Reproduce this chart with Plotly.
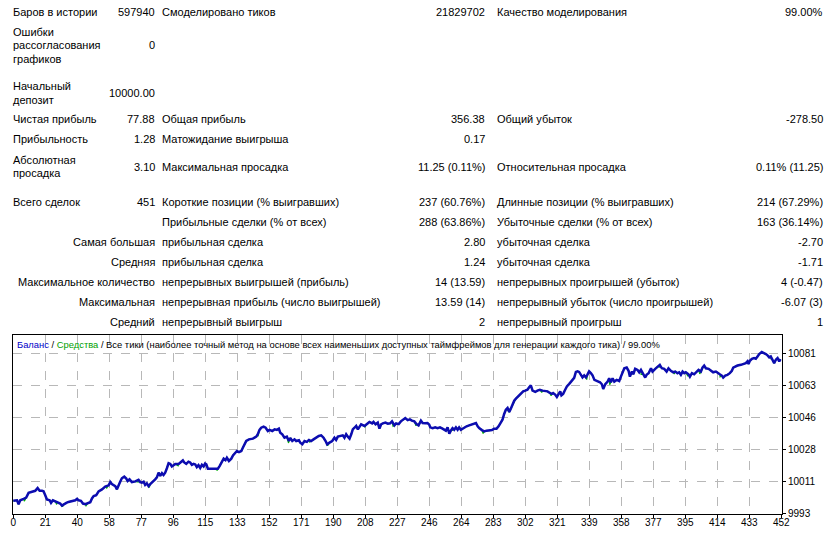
import plotly.graph_objects as go

# ---------------- data ----------------
trade_no = [
    0, 2.2, 3.1, 4.1, 6.1, 7.6, 9.0, 11.0, 12.9, 14.3, 15.5, 16.9, 17.8, 18.8, 19.8, 21.4, 22.2, 23.3, 24.7, 25.7,
    26.7, 27.6, 28.6, 29.6, 31.2, 32.5, 34.5, 36.5, 37.5, 38.4, 39.8, 41.0, 42.4, 43.7, 45.3, 46.3, 47.3, 48.8, 50.2, 52.2,
    54.1, 56.1, 57.1, 58.0, 59.0, 60.0, 61.0, 62.0, 62.9, 63.9, 65.3, 66.5, 67.3, 68.4, 69.8, 71.8, 73.7, 74.7, 75.7, 76.7,
    77.6, 78.6, 79.6, 80.6, 81.6, 82.5, 83.5, 84.5, 85.5, 86.5, 87.5, 88.4, 89.4, 90.4, 91.4, 92.4, 93.3, 94.3, 95.3, 97.3,
    98.6, 99.8, 100.6, 101.8, 103.1, 104.1, 105.1, 106.1, 107.1, 108.0, 109.0, 110.0, 111.0, 112.0, 112.9,
    113.6, 114.5, 116.5, 118.5, 120.4, 121.4, 123.0, 123.8, 124.9, 125.7, 126.9, 128.3, 129.3, 130.2, 131.6, 132.8, 134.2,
    135.1, 136.1, 137.1, 138.7, 141.0, 143.0, 143.9, 144.9, 145.9, 147.3, 148.5, 149.8, 150.8, 152.4, 153.8, 155.1, 156.3,
    157.1, 158.3, 159.6, 161.0, 162.2, 163.0, 164.2, 165.5, 166.5, 168.1, 168.9, 170.1, 171.4, 172.8, 174.0, 175.3, 176.7,
    178.3, 179.8, 181.2, 182.6, 183.8, 184.7, 186.1, 187.7, 189.0, 190.0, 191.0, 192.4, 193.9, 194.9, 195.9, 196.9, 197.9,
    198.9, 199.8, 200.8, 201.8, 202.8, 203.8, 204.7, 206.7, 207.7, 208.7, 209.6, 211.2, 212.0, 213.2, 214.5, 215.5, 216.5,
    217.5, 219.0, 220.4, 221.8, 222.9, 224.3, 225.3,
    226.8, 228.1, 229.5, 230.7, 232.1, 233.4, 234.6, 236.0, 237.3, 238.5, 239.9, 240.9, 242.4, 243.8, 244.8, 245.4, 246.8,
    248.3, 249.7, 251.1, 252.6, 253.6, 254.6, 255.6, 256.6, 257.5, 258.5, 259.5, 260.5, 261.5, 262.4, 263.4, 264.4, 265.4,
    266.8, 268.3, 269.9, 271.3, 272.3, 273.3, 274.2, 275.8, 277.2, 278.5, 280.1, 281.7, 283.0, 284.4, 285.6, 287.0, 287.9,
    288.9, 289.9, 290.9, 291.9, 292.8, 293.8, 294.8, 295.8, 297.4, 298.7, 300.1, 301.3, 302.6, 303.6, 304.6, 305.6, 307.2,
    308.5, 309.9, 311.5, 313.0, 314.4, 315.8, 317.0, 317.7, 318.9, 319.9, 320.9, 321.9, 322.6, 323.6, 324.8, 325.8, 327.2,
    328.7, 330.1, 331.1, 332.1, 333.0, 334.0, 335.0, 336.0, 337.0, 337.9, 338.9, 339.9, 340.9,
    342.0, 343.9, 345.3, 346.4, 347.2, 348.4, 349.8, 350.7, 351.7, 352.7, 353.7, 355.1, 356.6, 357.6, 358.6, 359.6, 361.0,
    362.1, 362.9, 364.1, 364.9, 366.0, 367.4, 368.4, 369.4, 370.7, 371.9, 372.7, 373.9, 375.3, 376.2, 377.8, 379.2, 380.5,
    381.7, 383.1, 384.5, 385.6, 387.0, 388.4, 389.6, 390.9, 391.9, 392.9, 393.9, 394.9, 395.8, 397.4, 398.2, 399.4, 400.7,
    402.1, 403.3, 404.7, 405.6, 406.6, 407.6, 409.2, 410.5, 411.9, 413.5, 414.5, 415.8, 417.0, 417.8, 419.0, 420.3, 421.7,
    422.9, 423.7, 424.9, 426.2, 428.2, 429.6, 431.1, 432.1, 432.7, 433.5, 434.7, 436.0, 437.0, 438.0, 439.0, 440.5, 441.9,
    442.9, 443.9, 444.9, 445.8, 446.8, 447.8, 448.8, 449.8, 450.8, 451.5,
]
balance = [
    10000.0, 10000.3, 9998.1, 10000.3, 10001.1, 10001.8, 10004.4, 10005.0, 10005.5, 10007.0, 10005.5, 10005.5, 10005.2,
    10003.1, 10000.7, 10000.3, 9998.9, 10000.3, 9999.8, 9999.2, 9998.9, 9998.5, 9997.4, 9998.1, 9998.9, 9999.4, 10000.0,
    10000.3, 10001.1, 10000.3, 10000.0, 9998.5, 9998.1, 9998.5, 9999.2, 10001.3, 10002.6, 10003.1, 10005.2, 10006.3,
    10007.8, 10008.5, 10010.3, 10009.2, 10008.7, 10008.1, 10006.3, 10008.9, 10010.5, 10012.4, 10013.3, 10012.2, 10010.9,
    10011.8, 10010.3, 10010.7, 10011.5, 10010.3, 10010.0, 10010.5, 10008.7, 10009.6, 10008.1, 10009.2, 10010.0, 10010.5,
    10011.8, 10012.9, 10015.5, 10013.7, 10015.2, 10014.2, 10015.5, 10017.9, 10020.7, 10020.3, 10018.9, 10019.6, 10020.2,
    10020.3, 10021.1, 10022.2, 10021.1, 10020.3, 10021.5, 10021.1, 10019.8, 10020.3, 10020.0, 10018.5, 10019.6, 10018.1,
    10019.8, 10018.9, 10020.5,
    10020.1, 10017.7, 10017.7, 10017.7, 10017.7, 10019.1, 10021.9, 10023.2, 10022.4, 10023.7, 10021.9, 10023.2, 10025.0,
    10026.1, 10027.4, 10026.8, 10027.4, 10029.2, 10031.1, 10032.9, 10033.8, 10034.2, 10035.3, 10036.6, 10039.0, 10040.2,
    10040.8, 10040.2, 10038.4, 10039.0, 10038.4, 10039.3, 10039.0, 10039.7, 10037.5, 10036.6, 10034.7, 10035.3, 10032.9,
    10034.6, 10032.9, 10033.8, 10032.9, 10033.3, 10032.0, 10031.1, 10032.9, 10032.4, 10033.5, 10032.9, 10033.8, 10034.7,
    10035.7, 10036.0, 10034.7, 10032.9, 10031.1, 10032.0, 10032.9, 10034.7, 10033.5, 10035.3, 10035.7, 10036.0, 10034.7,
    10036.6, 10035.3, 10034.2, 10036.6, 10039.3, 10040.2, 10041.2, 10039.3, 10040.8, 10042.1, 10041.2, 10042.1, 10043.0,
    10043.4, 10042.6, 10043.4, 10042.1, 10043.0, 10039.7, 10042.1, 10042.6, 10043.0, 10042.4, 10042.6, 10043.7, 10041.5,
    10042.6,
    10042.2, 10043.7, 10044.6, 10045.5, 10044.4, 10044.8, 10044.1, 10043.7, 10042.2, 10041.5, 10044.1, 10042.8, 10042.6,
    10042.8, 10041.9, 10040.4, 10040.0, 10040.4, 10040.0, 10040.4, 10039.7, 10039.1, 10038.6, 10040.4, 10036.9, 10038.6,
    10040.0, 10039.1, 10040.4, 10039.1, 10040.4, 10039.1, 10039.7, 10040.4, 10041.0, 10041.5, 10041.9, 10042.2, 10042.8,
    10041.0, 10040.0, 10038.9, 10038.2, 10038.6, 10038.6, 10038.9, 10039.7, 10039.7, 10041.0, 10042.8, 10044.6, 10047.8,
    10050.1, 10051.1, 10048.9, 10050.7, 10052.9, 10055.1, 10056.2, 10057.5, 10058.8, 10060.2, 10060.6, 10061.1, 10062.4,
    10063.5, 10060.6, 10059.9, 10060.6, 10061.1, 10060.6, 10060.6, 10060.2, 10059.3, 10058.8, 10059.3, 10058.4, 10057.1,
    10058.8, 10060.2, 10058.0, 10058.8, 10061.1, 10062.9, 10064.3, 10066.1, 10067.6, 10070.9, 10071.2, 10070.9, 10069.4,
    10067.9, 10069.0, 10067.9, 10069.4, 10071.2, 10070.3, 10069.0,
    10066.5, 10065.6, 10065.2, 10064.1, 10061.5, 10064.1, 10065.6, 10067.4, 10065.2, 10067.4, 10065.6, 10066.5, 10065.9,
    10068.3, 10070.7, 10072.9, 10073.3, 10071.5, 10068.3, 10071.1, 10069.6, 10072.6, 10072.0, 10070.7, 10072.0, 10069.6,
    10067.8, 10069.3, 10070.2, 10072.9, 10071.1, 10072.6, 10073.9, 10074.8, 10072.9, 10072.6, 10071.1, 10072.9, 10071.5,
    10070.7, 10071.1, 10070.2, 10070.7, 10069.3, 10071.1, 10070.2, 10070.7, 10069.6, 10068.3, 10070.2, 10069.6, 10070.7,
    10072.0, 10071.1, 10073.3, 10074.4, 10072.9, 10072.6, 10071.5, 10070.7, 10071.1, 10070.2, 10069.6, 10068.9, 10067.8,
    10068.9, 10069.3, 10070.2, 10071.5, 10073.3, 10073.9, 10074.4, 10074.8, 10075.2, 10075.7, 10076.7, 10075.2, 10077.0,
    10078.1, 10078.5, 10078.1, 10079.4, 10080.7, 10081.8, 10081.3, 10080.7, 10080.0, 10078.9, 10079.4, 10077.6, 10075.7,
    10077.6, 10078.5, 10076.7, 10077.88,
]
# equity (green) dips read where it shows below the balance line
equity_dip_trade = [6.5, 25.5, 29.0, 42.8, 55.0, 73.5, 80.0, 97.0, 120.0, 144.0, 162.0, 174.5, 185.0, 207.0, 223.5,
                    237.0, 258.5, 276.5, 291.0, 311.0, 316.5, 337.5, 351.0, 369.5, 380.5, 389.0, 397.0, 404.0, 416.0, 446.0]
equity_dip_value = [9999.8, 9998.0, 9996.8, 9997.3, 10007.0, 10010.3, 10007.3, 10019.2, 10016.8, 10035.4, 10031.8,
                    10032.3, 10030.3, 10040.5, 10041.0, 10041.2, 10038.8, 10037.0, 10049.8, 10059.6, 10057.8, 10066.7,
                    10063.9, 10069.5, 10073.5, 10069.8, 10068.5, 10069.8, 10068.2, 10077.9]

x_tick_labels = ["0", "21", "40", "58", "77", "96", "115", "133", "152", "171", "190", "208", "227", "246",
                 "264", "283", "302", "321", "339", "358", "377", "395", "414", "433", "452"]
y_tick_values = [9993.3, 10010.9, 10028.5, 10046.1, 10063.7, 10081.3]
y_tick_labels = ["9993", "10011", "10028", "10046", "10063", "10081"]

chart_caption_parts = ["Баланс", "Средства",
                       "Все тики (наиболее точный метод на основе всех наименьших доступных таймфреймов для генерации каждого тика)",
                       "99.00%"]

col1_labels = ["Баров в истории", "Ошибки\nрассогласования\nграфиков", "Начальный\nдепозит", "Чистая прибыль",
               "Прибыльность", "Абсолютная\nпросадка", "Всего сделок", "", "Самая большая", "Средняя",
               "Максимальное количество", "Максимальная", "Средний"]
col1_values = ["597940", "0", "10000.00", "77.88", "1.28", "3.10", "451", "", "", "", "", "", ""]
col2_labels = ["Смоделировано тиков", "", "", "Общая прибыль", "Матожидание выигрыша", "Максимальная просадка",
               "Короткие позиции (% выигравших)", "Прибыльные сделки (% от всех)", "прибыльная сделка",
               "прибыльная сделка", "непрерывных выигрышей (прибыль)", "непрерывная прибыль (число выигрышей)",
               "непрерывный выигрыш"]
col2_values = ["21829702", "", "", "356.38", "0.17", "11.25 (0.11%)", "237 (60.76%)", "288 (63.86%)", "2.80",
               "1.24", "14 (13.59)", "13.59 (14)", "2"]
col3_labels = ["Качество моделирования", "", "", "Общий убыток", "", "Относительная просадка",
               "Длинные позиции (% выигравших)", "Убыточные сделки (% от всех)", "убыточная сделка",
               "убыточная сделка", "непрерывных проигрышей (убыток)", "непрерывный убыток (число проигрышей)",
               "непрерывный проигрыш"]
col3_values = ["99.00%", "", "", "-278.50", "", "0.11% (11.25)", "214 (67.29%)", "163 (36.14%)", "-2.70",
               "-1.71", "4 (-0.47)", "-6.07 (3)", "1"]

# ---------------- layout constants ----------------
W, H = 840, 534
PL, PT, PR, PB = 13, 335, 782, 514          # plot box in pixels
FONT = "Liberation Sans"
row_y = [12.3, 45.0, 93.0, 119.3, 139.3, 166.5, 201.7, 221.7, 241.7, 261.7, 281.7, 301.7, 321.7]
LINE_STEP = 13.5
X_C1L, X_C1V, X_C2L, X_C2V, X_C3L, X_C3V = 12, 156, 161, 486, 496, 824


def px(x):
    return (x - PL) / (PR - PL)


def py(y):
    return (PB - y) / (PB - PT)


annotations = []


def add_text(text, x, y, anchor, size=11, color="black"):
    annotations.append(dict(text=text, x=px(x), y=py(y), xref="paper", yref="paper",
                            xanchor=anchor, yanchor="middle", showarrow=False, borderpad=0,
                            font=dict(family=FONT, size=size, color=color)))


for i, yy in enumerate(row_y):
    lab = col1_labels[i]
    if lab:
        lines = lab.split("\n")
        if i >= 8:
            add_text(lab, X_C1V, yy, "right")
        else:
            n = len(lines)
            for j, ln in enumerate(lines):
                add_text(ln, X_C1L, yy + (j - (n - 1) / 2) * LINE_STEP, "left")
    if col1_values[i]:
        add_text(col1_values[i], X_C1V, yy, "right")
    if col2_labels[i]:
        add_text(col2_labels[i], X_C2L, yy, "left")
    if col2_values[i]:
        add_text(col2_values[i], X_C2V, yy, "right")
    if col3_labels[i]:
        add_text(col3_labels[i], X_C3L, yy, "left")
    if col3_values[i]:
        add_text(col3_values[i], X_C3V, yy, "right")

caption = (f"<span style='color:#0000c8'>{chart_caption_parts[0]}</span> / "
           f"<span style='color:#00a000'>{chart_caption_parts[1]}</span> / "
           f"{chart_caption_parts[2]} / {chart_caption_parts[3]}")
add_text(caption, 16, 344, "left", size=9.4)

# equity: balance path with the dips merged in
eq_pts = sorted(list(zip(trade_no, balance)) + list(zip(equity_dip_trade, equity_dip_value)))
eq_x = [p[0] for p in eq_pts]
eq_y = [p[1] for p in eq_pts]

fig = go.Figure()
fig.add_trace(go.Scatter(x=eq_x, y=eq_y, mode="lines", line=dict(color="#00b000", width=1.2),
                         hoverinfo="skip", showlegend=False))
fig.add_trace(go.Scatter(x=trade_no, y=balance, mode="lines", line=dict(color="#0c0cb0", width=2.5),
                         showlegend=False))

n_x = len(x_tick_labels) - 1
x_max = 452
x_tick_vals = [k * x_max / n_x for k in range(n_x + 1)]
ppt = 768.0 / x_max
x_lo = -0.3 / ppt
x_hi = x_max + (PR - (PL + 0.3) - 768) / ppt

ppu = 32.0 / 17.6
y_lo = y_tick_values[0] - 1.0 / ppu
y_hi = y_tick_values[0] + (513 - PT) / ppu

GRID = dict(showgrid=True, gridcolor="#b8b8b8", griddash="dash", gridwidth=1)

fig.update_layout(
    template="none",
    width=W, height=H, autosize=False,
    margin=dict(l=PL, r=W - PR, t=PT, b=H - PB, pad=0, autoexpand=False),
    paper_bgcolor="white", plot_bgcolor="white",
    font=dict(family=FONT, size=10, color="black"),
    annotations=annotations,
    xaxis=dict(range=[x_lo, x_hi], tickmode="array", tickvals=x_tick_vals, ticktext=x_tick_labels,
               automargin=False, ticklabelstandoff=-4, **GRID,
               showline=True, linecolor="black", linewidth=1, mirror=True,
               ticks="outside", ticklen=3, tickcolor="black", zeroline=False,
               tickfont=dict(family=FONT, size=10)),
    yaxis=dict(range=[y_lo, y_hi], side="right", tickmode="array", tickvals=y_tick_values,
               ticktext=y_tick_labels, automargin=False, **GRID,
               showline=True, linecolor="black", linewidth=1, mirror=True,
               ticks="outside", ticklen=3, tickcolor="black", zeroline=False,
               tickfont=dict(family=FONT, size=10)),
)

fig.write_html("out.html")
